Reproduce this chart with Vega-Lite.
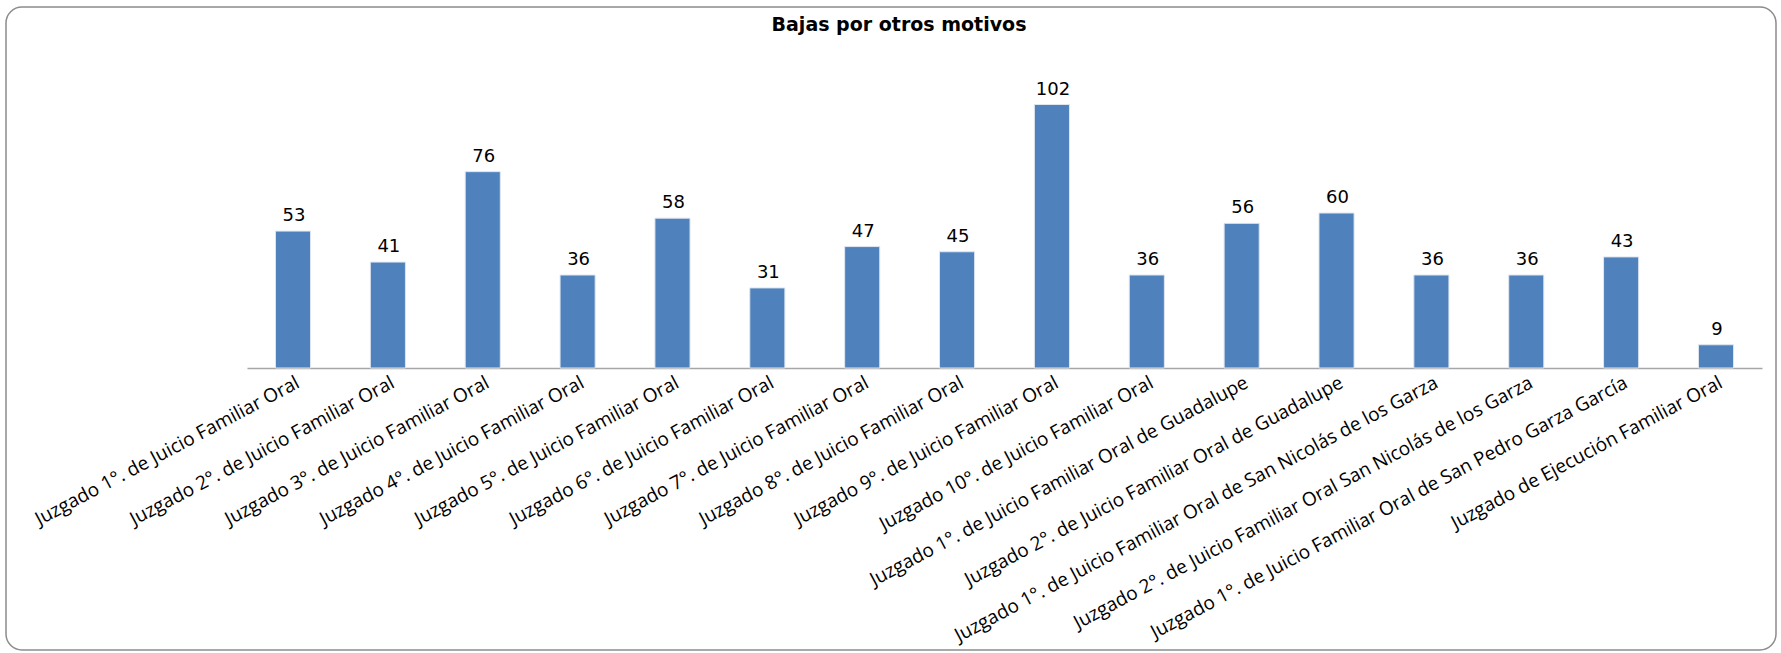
{
  "$schema": "https://vega.github.io/schema/vega-lite/v6.json",
  "width": 1770,
  "height": 643,
  "autosize": {"type": "none"},
  "padding": {"left": 6, "top": 7, "right": 5, "bottom": 3},
  "background": "#ffffff",
  "config": {
    "view": {"stroke": "#8c8c8c", "strokeWidth": 1.5, "cornerRadius": 16}
  },
  "title": {
    "text": "Bajas por otros motivos",
    "font": "DejaVu Sans",
    "fontWeight": "bold",
    "fontSize": 19,
    "color": "#000000",
    "anchor": "middle",
    "baseline": "alphabetic",
    "offset": -43,
    "dx": 8
  },
  "data": {
    "values": [
      {"juzgado": "Juzgado 1°. de Juicio Familiar Oral", "bajas": 53},
      {"juzgado": "Juzgado 2°. de Juicio Familiar Oral", "bajas": 41},
      {"juzgado": "Juzgado 3°. de Juicio Familiar Oral", "bajas": 76},
      {"juzgado": "Juzgado 4°. de Juicio Familiar Oral", "bajas": 36},
      {"juzgado": "Juzgado 5°. de Juicio Familiar Oral", "bajas": 58},
      {"juzgado": "Juzgado 6°. de Juicio Familiar Oral", "bajas": 31},
      {"juzgado": "Juzgado 7°. de Juicio Familiar Oral", "bajas": 47},
      {"juzgado": "Juzgado 8°. de Juicio Familiar Oral", "bajas": 45},
      {"juzgado": "Juzgado 9°. de Juicio Familiar Oral", "bajas": 102},
      {"juzgado": "Juzgado 10°. de Juicio Familiar Oral", "bajas": 36},
      {"juzgado": "Juzgado 1°. de Juicio Familiar Oral de Guadalupe", "bajas": 56},
      {"juzgado": "Juzgado 2°. de Juicio Familiar Oral de Guadalupe", "bajas": 60},
      {"juzgado": "Juzgado 1°. de Juicio Familiar Oral de San Nicolás de los Garza", "bajas": 36},
      {"juzgado": "Juzgado 2°. de Juicio Familiar Oral San Nicolás de los Garza", "bajas": 36},
      {"juzgado": "Juzgado 1°. de Juicio Familiar Oral de San Pedro Garza García", "bajas": 43},
      {"juzgado": "Juzgado de Ejecución Familiar Oral", "bajas": 9}
    ]
  },
  "encoding": {
    "x": {
      "field": "juzgado",
      "type": "nominal",
      "sort": null,
      "title": null,
      "scale": {"range": [241, 1756], "paddingInner": 0.63, "paddingOuter": 0.3},
      "axis": {
        "orient": "bottom",
        "offset": -282,
        "ticks": false,
        "domainColor": "#a6a6a6",
        "domainWidth": 1.5,
        "labelAngle": -28,
        "labelAlign": "right",
        "labelBaseline": "middle",
        "labelPadding": 13,
        "labelOffset": 5,
        "labelFont": "Open Sans",
        "labelFontSize": 19,
        "labelColor": "#000000",
        "labelLimit": 1000,
        "labelOverlap": false
      }
    },
    "y": {
      "field": "bajas",
      "type": "quantitative",
      "scale": {"domain": [0, 120], "range": [361, 51], "nice": false},
      "axis": null
    }
  },
  "layer": [
    {
      "mark": {"type": "bar", "color": "#4f81bd", "stroke": "#dfe6f0", "strokeWidth": 1}
    },
    {
      "mark": {
        "type": "text",
        "font": "DejaVu Sans",
        "fontSize": 18,
        "color": "#000000",
        "baseline": "alphabetic",
        "dy": -10,
        "dx": 1
      },
      "encoding": {"text": {"field": "bajas", "type": "quantitative"}}
    }
  ]
}
